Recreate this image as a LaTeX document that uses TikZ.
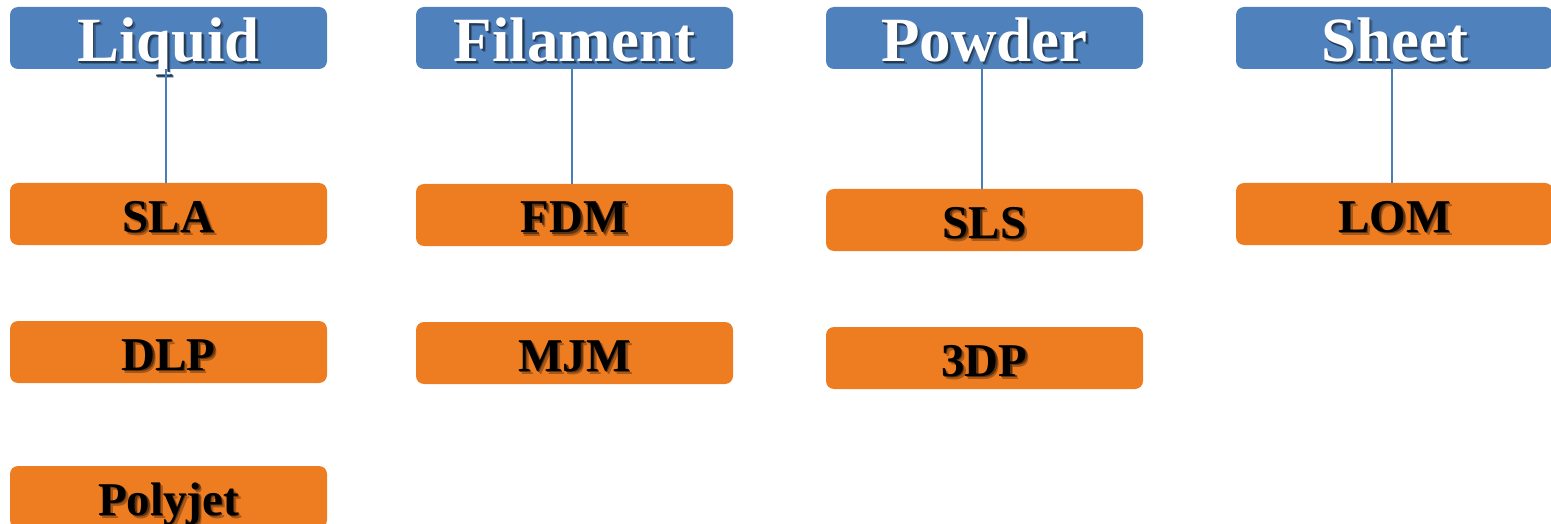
\documentclass[tikz,border=0pt]{standalone}
\usepackage{fontspec}
\setmainfont{Liberation Serif}[BoldFont={Liberation Serif Bold}]
\definecolor{catblue}{HTML}{4F81BD}
\definecolor{procorange}{HTML}{EE7D22}
\definecolor{linkblue}{HTML}{4A7EBB}
% text with a soft drop shadow (two faint layers)
\newcommand\shadowed[3]{%
  \rlap{\kern3pt\raisebox{-3pt}{\color{#1}#3}}%
  \rlap{\kern1.5pt\raisebox{-1.5pt}{\color{#2}#3}}#3}
\tikzset{
  catbox/.style={fill=catblue, rounded corners=8pt, minimum width=317pt,
    minimum height=62pt, inner sep=0pt, text height=48pt, text depth=0pt,
    font=\fontsize{63}{70}\selectfont\bfseries, text=white},
  procbox/.style={fill=procorange, rounded corners=8pt, minimum width=317pt,
    minimum height=62pt, inner sep=0pt, text height=36pt, text depth=0pt,
    font=\fontsize{47}{54}\selectfont\bfseries, text=black},
  link/.style={draw=linkblue, line width=1.5pt}
}
\newcommand\cat[1]{\shadowed{catblue!75!black}{catblue!45!black}{#1}}
\newcommand\proc[1]{\shadowed{procorange!70!black}{procorange!40!black}{#1}}
\begin{document}
\begin{tikzpicture}[x=1pt,y=-1pt]
\useasboundingbox (0,0) rectangle (1551,524);
% material categories
\node[catbox] (liquid)   at (168.5,38) {\cat{Liquid}};
\node[catbox] (filament) at (574.5,38) {\cat{Filament}};
\node[catbox] (powder)   at (984.5,38) {\cat{Powder}};
\node[catbox] (sheet)    at (1394.5,38) {\cat{Sheet}};
% processes
\node[procbox] (sla)     at (168.5,214) {\proc{SLA}};
\node[procbox] (dlp)     at (168.5,352) {\proc{DLP}};
\node[procbox] (polyjet) at (168.5,497) {\proc{Polyjet}};
\node[procbox] (fdm)     at (574.5,215) {\proc{FDM}};
\node[procbox] (mjm)     at (574.5,353) {\proc{MJM}};
\node[procbox] (sls)     at (984.5,220) {\proc{SLS}};
\node[procbox] (tdp)     at (984.5,358) {\proc{3DP}};
\node[procbox] (lom)     at (1394.5,214) {\proc{LOM}};
% links
\draw[link] ([xshift=-2.5pt]liquid.south) -- ([xshift=-2.5pt]sla.north);
\draw[link] ([xshift=-2.5pt]filament.south) -- ([xshift=-2.5pt]fdm.north);
\draw[link] ([xshift=-2.5pt,yshift=7pt]powder.south) -- ([xshift=-2.5pt]sls.north);
\draw[link] ([xshift=-2.5pt]sheet.south) -- ([xshift=-2.5pt]lom.north);
\end{tikzpicture}
\end{document}
